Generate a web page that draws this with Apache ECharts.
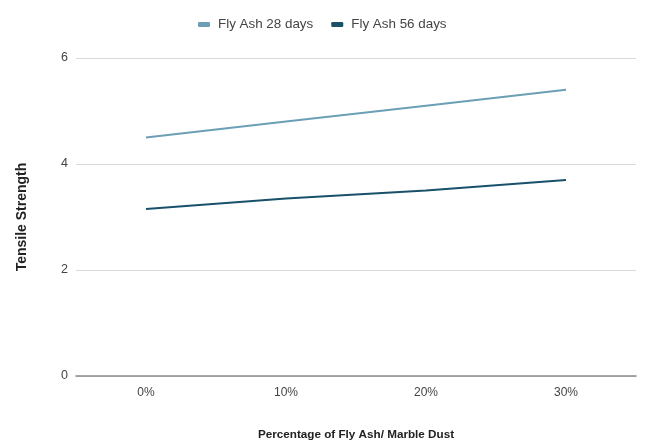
<!DOCTYPE html>
<html>
<head>
<meta charset="utf-8">
<script src="https://cdn.jsdelivr.net/npm/echarts@6/dist/echarts.min.js"></script>
<style>
  html, body { margin: 0; padding: 0; background: #fff; }
  #chart { width: 647px; height: 441px; }
</style>
</head>
<body>
<div id="chart"></div>
<script>
// Tensile strength by percentage of fly ash / marble dust
const categories = ['0%', '10%', '20%', '30%'];
const flyAsh28 = [4.5, 4.8, 5.1, 5.4];
const flyAsh56 = [3.15, 3.35, 3.5, 3.7];
const seriesNames = ['Fly Ash 28 days', 'Fly Ash 56 days'];
const yTicks = [0, 2, 4, 6];

const FONT = '"Liberation Sans", Arial, sans-serif';
const chart = echarts.init(document.getElementById('chart'), null, { renderer: 'canvas' });

chart.setOption({
  animation: false,
  backgroundColor: '#ffffff',
  color: ['#6b9fb6', '#19506a'],
  legend: {
    top: 13,
    left: 193,
    itemWidth: 12,
    itemHeight: 5,
    itemGap: 18,
    icon: 'roundRect',
    textStyle: { fontFamily: FONT, fontSize: 13.4, color: '#444', padding: [0, 0, 0, 3] },
    data: seriesNames
  },
  // keep the plot rectangle fixed; titles sit outside it
  grid: { left: 76, right: 11, top: 58, bottom: 65, containLabel: false, outerBoundsMode: 'none' },
  xAxis: {
    type: 'category',
    data: categories,
    boundaryGap: true,
    name: 'Percentage of Fly Ash/ Marble Dust',
    nameLocation: 'middle',
    nameGap: 53,
    nameTextStyle: { fontFamily: FONT, fontSize: 11.7, fontWeight: 'bold', color: '#222' },
    axisLine: { lineStyle: { color: '#8a8a8a', width: 1.5 } },
    axisTick: { show: false },
    axisLabel: { fontFamily: FONT, fontSize: 12, color: '#444', margin: 11 }
  },
  yAxis: {
    type: 'value',
    min: yTicks[0],
    max: yTicks[yTicks.length - 1],
    interval: 2,
    name: 'Tensile Strength',
    nameLocation: 'middle',
    nameGap: 47,
    nameRotate: 90,
    nameTextStyle: { fontFamily: FONT, fontSize: 14, fontWeight: 'bold', color: '#222' },
    axisLine: { show: false },
    axisTick: { show: false },
    axisLabel: { fontFamily: FONT, fontSize: 12.5, color: '#444', margin: 8 },
    splitLine: { lineStyle: { color: '#d9d9d9', width: 1 } }
  },
  series: [
    {
      name: seriesNames[0],
      type: 'line',
      data: flyAsh28,
      showSymbol: false,
      lineStyle: { width: 2 }
    },
    {
      name: seriesNames[1],
      type: 'line',
      data: flyAsh56,
      showSymbol: false,
      lineStyle: { width: 2 }
    }
  ]
});
</script>
</body>
</html>
